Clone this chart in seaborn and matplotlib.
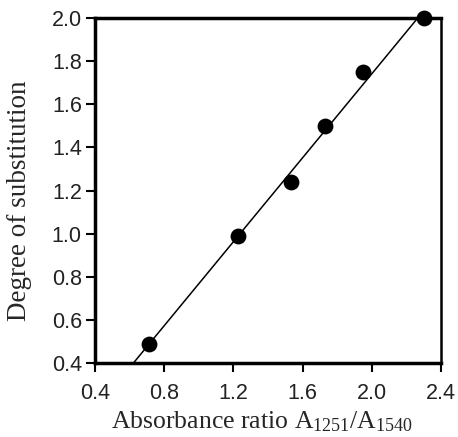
import numpy as np
import pandas as pd
import matplotlib
matplotlib.use("Agg")
import matplotlib.pyplot as plt
import seaborn as sns

absorbance_ratio = [0.715, 1.225, 1.533, 1.729, 1.951, 2.302]
degree_subst = [0.49, 0.99, 1.24, 1.50, 1.75, 2.00]
x_ticks = [0.4, 0.8, 1.2, 1.6, 2.0, 2.4]
y_ticks = [0.4, 0.6, 0.8, 1.0, 1.2, 1.4, 1.6, 1.8, 2.0]

df = pd.DataFrame({"x": absorbance_ratio, "y": degree_subst})

sns.set_theme(style="white")
plt.rcParams["font.family"] = ["Liberation Sans", "DejaVu Sans"]
plt.rcParams["mathtext.fontset"] = "custom"
plt.rcParams["mathtext.rm"] = "Liberation Serif"
plt.rcParams["mathtext.it"] = "Liberation Serif:italic"

fig = plt.figure(figsize=(4.58, 4.37), dpi=100)
ax = fig.add_axes([0.2074, 0.1693, 0.9629 - 0.2074, 0.9588 - 0.1693])
ax.set_xlim(0.4, 2.4)
ax.set_ylim(0.4, 2.0)

sns.regplot(data=df, x="x", y="y", ax=ax, ci=None, truncate=False,
            scatter_kws=dict(s=130, color="black", edgecolor="black", linewidths=0,
                             alpha=1.0, zorder=3, clip_on=False),
            line_kws=dict(color="black", linewidth=1.1, zorder=2))
ax.set_xlim(0.4, 2.4)
ax.set_ylim(0.4, 2.0)

ax.set_xticks(x_ticks)
ax.set_yticks(y_ticks)
ax.set_xticklabels([f"{v:.1f}" for v in x_ticks])
ax.set_yticklabels([f"{v:.1f}" for v in y_ticks])
ax.tick_params(axis="both", direction="out", length=6.5, width=1.5, colors="black",
               labelsize=15.5, pad=3, bottom=True, left=True)
ax.tick_params(axis="x", pad=8)
for lab in ax.get_xticklabels() + ax.get_yticklabels():
    lab.set_color("#222222")

for side in ["left", "bottom", "top"]:
    ax.spines[side].set_linewidth(2.5)
    ax.spines[side].set_color("black")
ax.spines["right"].set_linewidth(1.8)
ax.spines["right"].set_color("black")
for s in ax.spines.values():
    s.set_visible(True)

ax.set_xlabel(r"Absorbance ratio A$_{1251}$/A$_{1540}$", fontsize=18.5,
              family="Liberation Serif")
ax.set_ylabel("Degree of substitution", fontsize=19.5,
              family="Liberation Serif")
ax.xaxis.set_label_coords(0.482, -0.133)
ax.yaxis.set_label_coords(-0.181, 0.47)
ax.set_facecolor("white")
fig.patch.set_facecolor("white")

fig.savefig("out.png", dpi=100)
